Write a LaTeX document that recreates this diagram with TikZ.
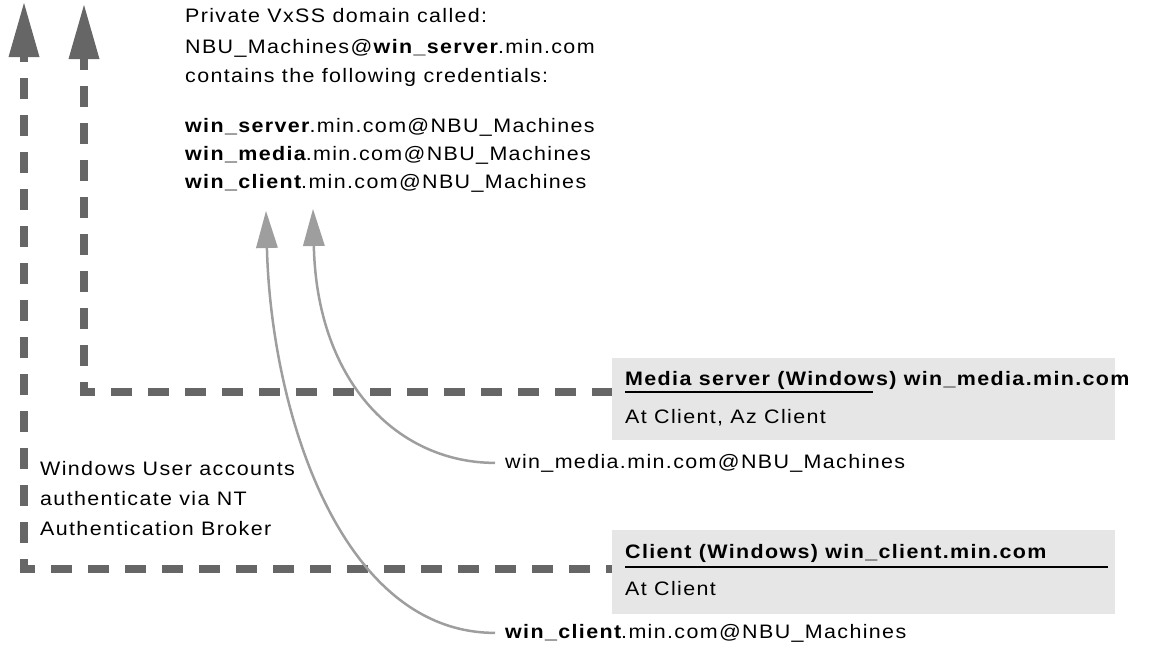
\documentclass[tikz,border=0pt]{standalone}
\usepackage{fontspec}
\setmainfont{Liberation Sans}[FakeStretch=1.1,LetterSpace=7]
\usetikzlibrary{arrows.meta}
\definecolor{dashgray}{HTML}{666666}
\definecolor{curvegray}{HTML}{9E9E9E}
\definecolor{boxgray}{HTML}{E6E6E6}
\begin{document}
\begin{tikzpicture}[x=1pt,y=-1pt,
  txt/.style={inner sep=0pt,anchor=base west,font=\fontsize{19.5}{23}\selectfont},
  boxst/.style={fill=boxgray,draw=none,inner sep=0pt,anchor=north west},
  uline/.style={draw=black,line width=2.5pt},
  dashline/.style={draw=dashgray,line width=8pt,dash pattern=on 21pt off 16pt,
    -{Triangle[length=54pt,width=31pt,line width=0pt]},fill=none},
  grayarrow/.style={draw=curvegray,line width=2.5pt,
    -{Triangle[length=37pt,width=22pt,line width=0pt]}}]
\useasboundingbox (0,0) rectangle (1149,645);

% top text
\node[txt] (t1) at (185,22) {Private VxSS domain called:};
\node[txt] (t2) at (185,53) {NBU\_Machines@\textbf{win\_server}.min.com};
\node[txt] (t3) at (185,82) {contains the following credentials:};
\node[txt] (c1) at (185,132) {\textbf{win\_server}.min.com@NBU\_Machines};
\node[txt] (c2) at (185,160) {\textbf{win\_media}.min.com@NBU\_Machines};
\node[txt] (c3) at (185,188) {\textbf{win\_client}.min.com@NBU\_Machines};

% left text
\node[txt] (w1) at (40,475) {Windows User accounts};
\node[txt] (w2) at (40,505) {authenticate via NT};
\node[txt] (w3) at (40,535) {Authentication Broker};

% media box
\node[boxst,minimum width=503pt,minimum height=82pt] (mbox) at (612,358) {};
\node[txt] (mt) at (625,385) {\textbf{Media server (Windows) win\_media.min.com}};
\draw[uline] (mt.base west) ++(0,7) -- ++(248,0);
\node[txt] (mb) at (625,423) {At Client, Az Client};

% client box
\node[boxst,minimum width=503pt,minimum height=84pt] (cbox) at (612,530) {};
\node[txt] (ct) at (625,558) {\textbf{Client (Windows) win\_client.min.com}};
\draw[uline] (ct.base west) ++(0,9) -- ++(483,0);
\node[txt] (cb) at (625,595) {At Client};

% labels
\node[txt] (ml) at (505,468) {win\_media.min.com@NBU\_Machines};
\node[txt] (cl) at (505,638) {\textbf{win\_client}.min.com@NBU\_Machines};

% tips
\coordinate (tipo) at (24,3);
\coordinate (tipi) at (84,5);
\coordinate (mline) at (612,392);
\coordinate (cline) at (612,569);
\coordinate (tipm) at (313,209);
\coordinate (tipc) at (266,211);

% dashed connectors
\draw[dashline,dash phase=1pt] (mline) -| (tipi);
\draw[dashline,dash phase=15pt] (cline) -| (tipo);

% gray curves
\draw[grayarrow] ([xshift=-10pt]ml.west) .. controls (400,463) and (317,385) .. (tipm);
\draw[grayarrow] ([xshift=-10pt]cl.west) .. controls (340,633) and (271,410) .. (tipc);
\end{tikzpicture}
\end{document}
